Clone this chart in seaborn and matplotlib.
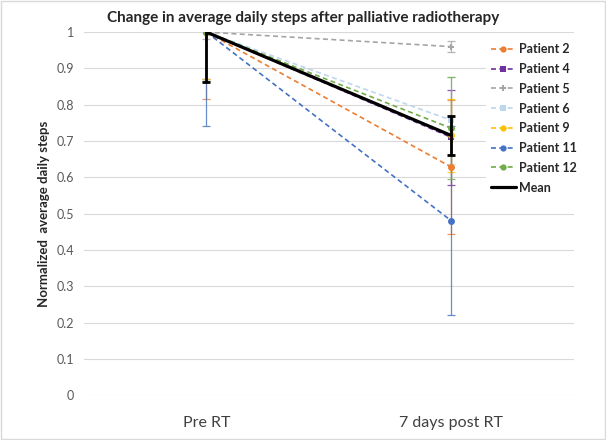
import numpy as np
import pandas as pd
import seaborn as sns
import matplotlib.pyplot as plt

# values
timepoints = ['Pre RT', '7 days post RT']
patients = ['Patient 2', 'Patient 4', 'Patient 5', 'Patient 6', 'Patient 9', 'Patient 11', 'Patient 12']
pre_vals = [1.0, 1.0, 1.0, 1.0, 1.0, 1.0, 1.0]
post_vals = [0.628, 0.71, 0.96, 0.757, 0.716, 0.48, 0.735]
pre_err = [0.185, 0.13, 0.02, 0.13, 0.13, 0.26, 0.135]
post_err = [0.185, 0.13, 0.015, 0.12, 0.10, 0.26, 0.14]
mean_vals = [1.0, 0.715]
mean_err = [0.138, 0.054]

colors = ['#ED7D31', '#7030A0', '#A5A5A5', '#BDD7EE', '#FFC000', '#4472C4', '#70AD47']
markers = ['o', 's', 'P', 's', 'o', 'o', 'o']

sns.set_style('white')
plt.rcParams['font.family'] = ['Lato', 'DejaVu Sans']

fig = plt.figure(figsize=(6.06, 4.4), dpi=100)
ax = fig.add_axes([0.1386, 0.102, 0.8084, 0.825])

x = np.arange(len(timepoints))

df = pd.DataFrame({
    'time': np.tile(x, len(patients)),
    'value': np.ravel(np.column_stack([pre_vals, post_vals])),
    'patient': np.repeat(patients, len(timepoints)),
})

# error bars per patient (the part above 1 is cut off like in the original)
for i, p in enumerate(patients):
    ax.errorbar(x, [pre_vals[i], post_vals[i]], yerr=[pre_err[i], post_err[i]],
                fmt='none', ecolor=colors[i], elinewidth=0.9, capsize=3, capthick=0.9,
                alpha=0.8, zorder=2)

sns.lineplot(data=df, x='time', y='value', hue='patient', style='patient',
             palette=dict(zip(patients, colors)), markers=dict(zip(patients, markers)),
             dashes={p: (3, 2) for p in patients}, markersize=5, linewidth=1.2,
             markeredgewidth=0, ax=ax, legend=False, zorder=3)

ax.errorbar(x, mean_vals, yerr=mean_err, color='black', linewidth=2.3,
            elinewidth=2, capsize=3, capthick=2, zorder=4)

# legend
handles = []
for i, p in enumerate(patients):
    h, = ax.plot([], [], color=colors[i], linestyle=(0, (3, 2)), marker=markers[i],
                 markersize=4.5, markeredgewidth=0, linewidth=1.2, label=p)
    handles.append(h)
h, = ax.plot([], [], color='black', linewidth=2.3, label='Mean')
handles.append(h)
leg = ax.legend(handles=handles, loc='upper right', bbox_to_anchor=(1.03, 1.0),
                frameon=True, framealpha=1, edgecolor='white', fancybox=False,
                prop={'weight': 'bold', 'size': 9}, handlelength=2.0,
                handletextpad=0.3, labelspacing=0.62, borderpad=0.4)

ax.set_xlim(-0.5, 1.5)
ax.set_ylim(0, 1)
ax.set_yticks(np.arange(0, 1.01, 0.1))
ax.set_yticklabels(['0', '0.1', '0.2', '0.3', '0.4', '0.5', '0.6', '0.7', '0.8', '0.9', '1'])
ax.set_xticks(x)
ax.set_xticklabels(timepoints, fontsize=11.5, color='#404040')
ax.tick_params(axis='y', labelsize=9, labelcolor='#595959', length=0, pad=7)
ax.tick_params(axis='x', length=0, pad=15)
ax.yaxis.grid(True, color='#d9d9d9', linewidth=0.8)
ax.set_axisbelow(True)
for s in ax.spines.values():
    s.set_visible(False)

ax.set_xlabel('')
ax.set_ylabel('Normalized  average daily steps', fontsize=9.5, fontweight='bold', labelpad=5)
fig.suptitle('Change in average daily steps after palliative radiotherapy',
             x=0.5, y=0.975, fontsize=11, fontweight='bold')

fig.patches.append(plt.Rectangle((0.002, 0.002), 0.996, 0.996, transform=fig.transFigure,
                                 fill=False, edgecolor='#d9d9d9', linewidth=1))

fig.savefig('out.png', dpi=100)
